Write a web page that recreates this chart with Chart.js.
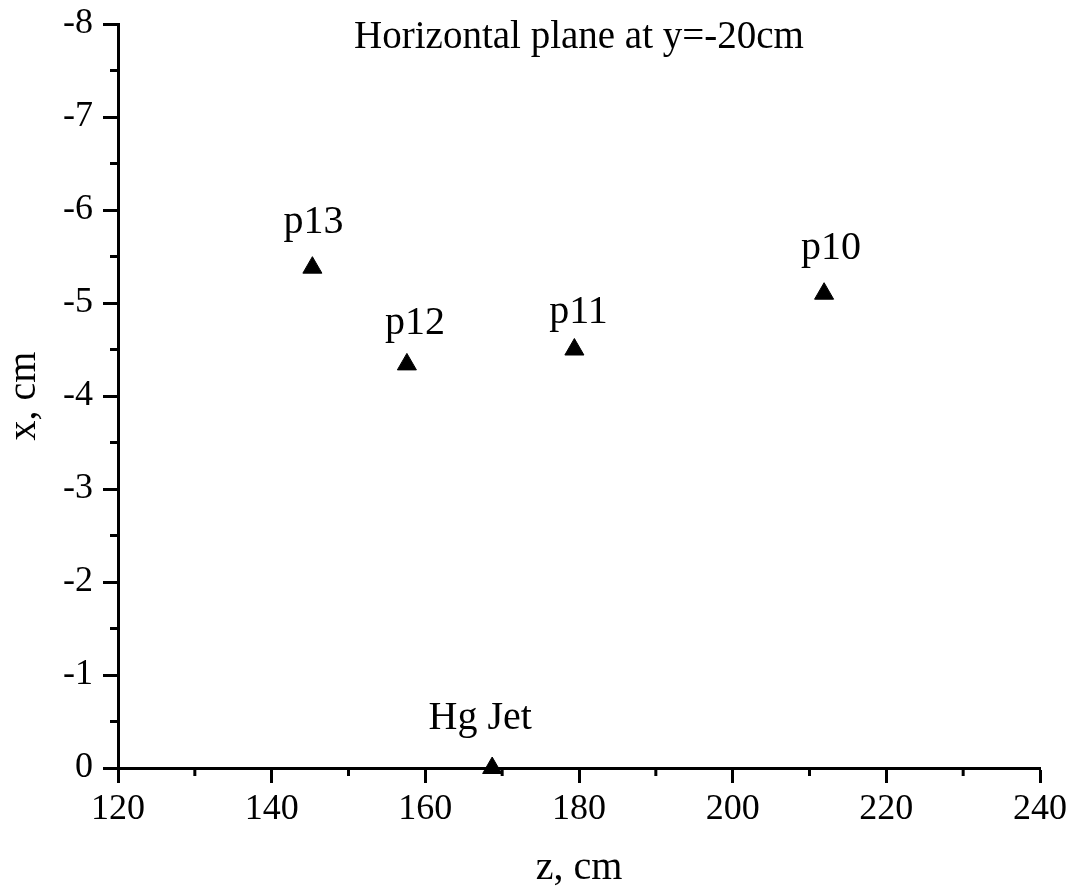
<!DOCTYPE html>
<html>
<head>
<meta charset="utf-8">
<script src="https://cdn.jsdelivr.net/npm/chart.js@4"></script>
<style>
  html, body { margin: 0; padding: 0; background: #fff; }
  #wrap { width: 1072px; height: 892px; }
</style>
</head>
<body>
<div id="wrap"><canvas id="chart"></canvas></div>
<script>
// --- Data ---
const probeNames = ['p13', 'p12', 'p11', 'p10', 'Hg Jet'];
const zValues = [145.3, 157.6, 179.4, 211.9, 168.7];   // z, cm
const xValues = [-5.38, -4.34, -4.50, -5.10, 0];       // x, cm
const zTicks = [120, 140, 160, 180, 200, 220, 240];
const xTicks = [-8, -7, -6, -5, -4, -3, -2, -1, 0];
const zMinor = [130, 150, 170, 190, 210, 230];
const xMinor = [-7.5, -6.5, -5.5, -4.5, -3.5, -2.5, -1.5, -0.5];
const chartTitle = 'Horizontal plane at y=-20cm';

// label placement relative to each marker (px), styling only
const labelNudge = [[1, -35], [8, -30], [4, -27], [7, -35], [-12, -39]];

const serif = '"Liberation Serif", "Times New Roman", serif';

// title inside the plot area + point labels + minor ticks
const decorations = {
  id: 'decorations',
  afterDatasetsDraw(chart) {
    const ctx = chart.ctx;
    const area = chart.chartArea;
    ctx.save();
    ctx.fillStyle = '#000';
    ctx.textAlign = 'center';
    ctx.textBaseline = 'alphabetic';

    ctx.font = '39px ' + serif;
    ctx.fillText(chartTitle, (area.left + area.right) / 2, area.top + 24);

    ctx.font = '40px ' + serif;
    chart.getDatasetMeta(0).data.forEach((pt, i) => {
      const [dx, dy] = labelNudge[i];
      ctx.fillText(probeNames[i], pt.x + dx, pt.y + dy);
    });

    // minor ticks
    ctx.strokeStyle = '#000';
    ctx.lineWidth = 3;
    const xs = chart.scales.x, ys = chart.scales.y;
    ctx.beginPath();
    zMinor.forEach(v => {
      const px = xs.getPixelForValue(v);
      ctx.moveTo(px, area.bottom);
      ctx.lineTo(px, area.bottom + 8);
    });
    xMinor.forEach(v => {
      const py = ys.getPixelForValue(v);
      ctx.moveTo(area.left, py);
      ctx.lineTo(area.left - 8, py);
    });
    ctx.stroke();
    ctx.restore();
  }
};

const axisGrid = {
  drawOnChartArea: false,
  drawTicks: true,
  tickLength: 15,
  tickColor: '#000',
  tickWidth: 3
};

new Chart(document.getElementById('chart'), {
  type: 'scatter',
  data: {
    datasets: [{
      data: zValues.map((z, i) => ({ x: z, y: xValues[i] })),
      pointStyle: 'triangle',
      pointRadius: 11,
      pointHoverRadius: 11,
      backgroundColor: '#000',
      borderColor: '#000',
      borderWidth: 1,
      clip: false
    }]
  },
  options: {
    responsive: true,
    maintainAspectRatio: false,
    animation: false,
    layout: { padding: { left: 0, top: 24, right: 32, bottom: 0 } },
    plugins: {
      legend: { display: false },
      tooltip: { enabled: false }
    },
    scales: {
      x: {
        type: 'linear',
        min: 120,
        max: 240,
        afterBuildTicks: s => { s.ticks = zTicks.map(v => ({ value: v })); },
        afterFit: s => {
          s.height = 124;
          s.paddingLeft = 0;
          s.paddingRight = 0;
        },
        border: { color: '#000', width: 3 },
        grid: axisGrid,
        ticks: {
          color: '#000',
          padding: 5,
          font: { family: serif, size: 36 }
        },
        title: {
          display: true,
          text: 'z, cm',
          color: '#000',
          padding: { top: 0, bottom: 0 },
          font: { family: serif, size: 40 }
        }
      },
      y: {
        type: 'linear',
        min: -8,
        max: 0,
        reverse: true,
        afterBuildTicks: s => { s.ticks = xTicks.map(v => ({ value: v })); },
        afterFit: s => {
          s.width = 118;
          s.paddingTop = 0;
          s.paddingBottom = 0;
        },
        border: { color: '#000', width: 3 },
        grid: axisGrid,
        ticks: {
          color: '#000',
          padding: 10,
          font: { family: serif, size: 36 }
        },
        title: {
          display: true,
          text: 'x, cm',
          color: '#000',
          padding: { top: 0, bottom: 0 },
          font: { family: serif, size: 40 }
        }
      }
    }
  },
  plugins: [decorations]
});
</script>
</body>
</html>
